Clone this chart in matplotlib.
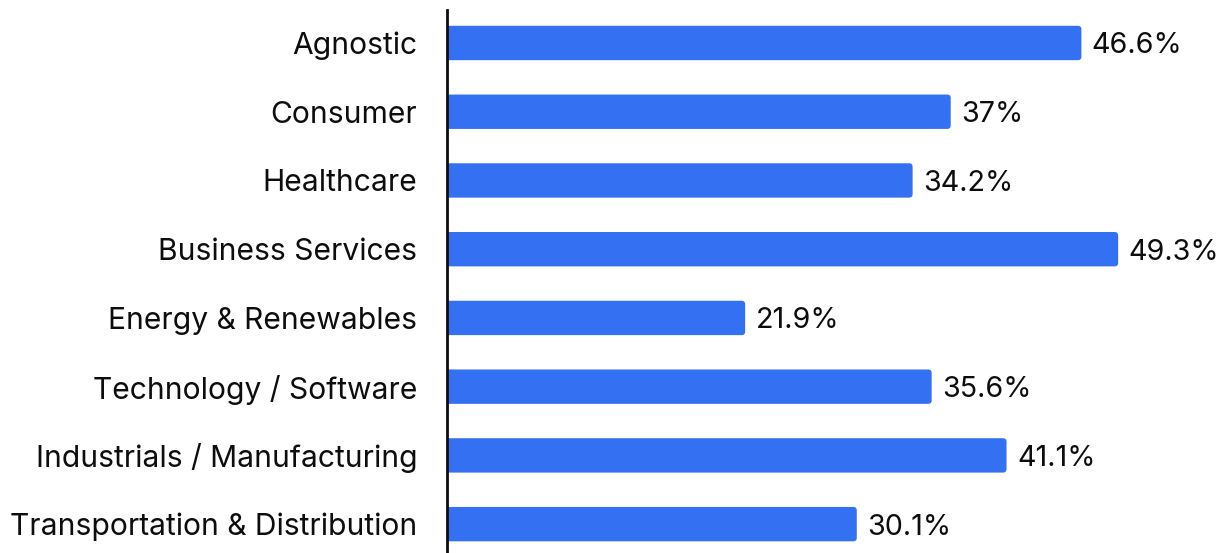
import matplotlib
matplotlib.use("Agg")
import matplotlib.pyplot as plt
from matplotlib.patches import FancyBboxPatch

plt.rcParams['font.family'] = ['Inter', 'DejaVu Sans']

categories = [
    "Agnostic",
    "Consumer",
    "Healthcare",
    "Business Services",
    "Energy & Renewables",
    "Technology / Software",
    "Industrials / Manufacturing",
    "Transportation & Distribution",
]
values = [46.6, 37.0, 34.2, 49.3, 21.9, 35.6, 41.1, 30.1]

BAR_COLOR = "#3370F2"
TEXT_COLOR = "#0d0d0d"
W, H, DPI = 1223, 553, 100

fig = plt.figure(figsize=(W / DPI, H / DPI), dpi=DPI)
ax_left = 447 / W
ax_top = 1 - 10 / H
ax = fig.add_axes([ax_left, 0.0, 1 - ax_left, ax_top])

ypos = list(range(len(categories)))
bar_h = 0.5
xmax = 57.0
ymin, ymax = 7.42, -0.48
ax.set_xlim(0, xmax)
ax.set_ylim(ymin, ymax)

# pixel scales for rounding the bar ends
ax_w_px = (1 - ax_left) * W
ax_h_px = ax_top * H
px_x = ax_w_px / xmax
px_y = ax_h_px / (ymin - ymax)
radius_px = 3.5
r_x = radius_px / px_x
aspect = (radius_px / px_y) / r_x

bars = ax.barh(ypos, values, height=bar_h, color=BAR_COLOR, alpha=0)
for b, v in zip(bars, values):
    y0 = b.get_y()
    # start left of zero so the left corners are clipped square by the axes
    start = -3 * r_x
    ax.add_patch(FancyBboxPatch((start, y0), v - start, bar_h,
                                boxstyle=f"round,pad=0,rounding_size={r_x}",
                                mutation_aspect=aspect,
                                facecolor=BAR_COLOR, edgecolor="none",
                                clip_on=True))
    label = f"{v:.1f}".rstrip("0").rstrip(".") + "%"
    ax.annotate(label, (v, y0 + bar_h / 2), xytext=(7.5, 0),
                textcoords="offset points", va="center_baseline", ha="left",
                fontsize=20.7, color=TEXT_COLOR)

ax.set_yticks(ypos)
ax.set_yticklabels(categories, fontsize=21.6, color=TEXT_COLOR)
ax.tick_params(axis="y", length=0, pad=21.5)
ax.set_xticks([])
for s in ["top", "right", "bottom"]:
    ax.spines[s].set_visible(False)
ax.spines["left"].set_linewidth(2)
ax.spines["left"].set_color(TEXT_COLOR)
ax.spines["left"].set_zorder(5)

fig.savefig("out.png", dpi=DPI)
